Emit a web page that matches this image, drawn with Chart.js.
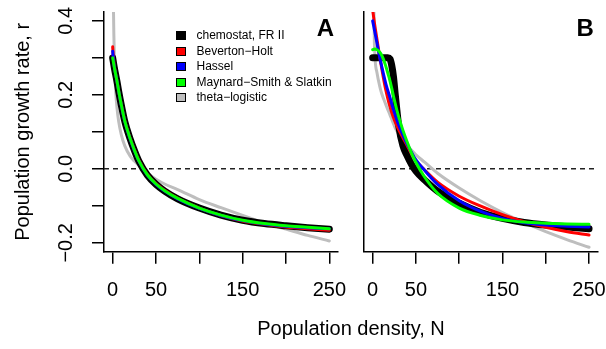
<!DOCTYPE html>
<html lang="en">
<head>
<meta charset="UTF-8">
<title>Population growth rate vs density</title>
<style>
  html, body { margin: 0; padding: 0; background: #fff; }
  #wrap { position: relative; width: 606px; height: 349px; overflow: hidden;
          font-family: "Liberation Sans", Arial, Helvetica, sans-serif; }
  canvas { position: absolute; top: 0; }
  #chartA { left: 0; }
  #chartB { left: 350px; }
  #xtitle { position: absolute; left: 351px; top: 328px; transform: translate(-50%, -50%);
            font-size: 20px; white-space: nowrap; color: #000; }
</style>
</head>
<body>
<div id="wrap">
  <canvas id="chartA" width="350" height="349"></canvas>
  <canvas id="chartB" width="256" height="349"></canvas>
  <div id="xtitle">Population density, N</div>
</div>
<script src="https://cdn.jsdelivr.net/npm/chart.js@4.4.1/dist/chart.umd.min.js"></script>
<script>
// series, in legend order
const seriesNames = ['chemostat, FR II', 'Beverton\u2212Holt', 'Hassel', 'Maynard\u2212Smith & Slatkin', 'theta\u2212logistic'];
const seriesColors = ['#000000', '#ff0000', '#0000ff', '#00ff00', '#bebebe'];

// panel A
const densityA   = [0, 1, 2, 3.5, 5, 7, 10, 14, 20, 25, 30, 40, 50, 60, 75, 100, 125, 150, 175, 200, 225, 250];
const chemostatA = [0.300, 0.286, 0.272, 0.254, 0.236, 0.209, 0.172, 0.128, 0.082, 0.050, 0.022, -0.017, -0.042, -0.060, -0.081, -0.106, -0.125, -0.139, -0.148, -0.154, -0.159, -0.163];
const bevholtA   = [0.330, 0.298, 0.276, 0.256, 0.237, 0.210, 0.173, 0.130, 0.084, 0.052, 0.024, -0.015, -0.040, -0.058, -0.080, -0.106, -0.126, -0.141, -0.150, -0.157, -0.162, -0.166];
const hasselA    = [0.318, 0.292, 0.274, 0.255, 0.236, 0.209, 0.172, 0.128, 0.082, 0.050, 0.022, -0.017, -0.042, -0.060, -0.081, -0.107, -0.126, -0.140, -0.149, -0.155, -0.159, -0.162];
const msslatkinA = [0.300, 0.287, 0.273, 0.255, 0.237, 0.210, 0.173, 0.129, 0.083, 0.051, 0.023, -0.016, -0.041, -0.059, -0.080, -0.106, -0.125, -0.139, -0.148, -0.154, -0.158, -0.162];
const thetaA     = [0.700, 0.420, 0.300, 0.210, 0.165, 0.127, 0.092, 0.062, 0.035, 0.021, 0.010, -0.012, -0.028, -0.041, -0.056, -0.083, -0.105, -0.126, -0.146, -0.163, -0.180, -0.195];

// panel B
const densityB   = [0, 2, 5, 8, 10, 12.5, 15, 17.5, 20, 22, 24, 26, 28, 30, 35, 40, 45, 50, 60, 75, 100, 125, 150, 175, 200, 225, 250];
const chemostatB = [0.300, 0.300, 0.300, 0.300, 0.300, 0.300, 0.300, 0.300, 0.297, 0.280, 0.250, 0.203, 0.158, 0.118, 0.062, 0.035, 0.012, -0.006, -0.030, -0.060, -0.093, -0.118, -0.134, -0.145, -0.152, -0.157, -0.162];
const bevholtB   = [0.430, 0.395, 0.350, 0.305, 0.278, 0.245, 0.215, 0.190, 0.168, 0.152, 0.139, 0.127, 0.116, 0.106, 0.084, 0.062, 0.040, 0.022, -0.003, -0.036, -0.074, -0.101, -0.124, -0.143, -0.158, -0.170, -0.179];
const hasselB    = [0.400, 0.376, 0.340, 0.303, 0.282, 0.256, 0.232, 0.212, 0.193, 0.176, 0.160, 0.146, 0.132, 0.119, 0.091, 0.066, 0.044, 0.024, -0.004, -0.042, -0.086, -0.115, -0.134, -0.146, -0.152, -0.155, -0.157];
const msslatkinB = [0.322, 0.324, 0.322, 0.316, 0.309, 0.296, 0.279, 0.259, 0.238, 0.218, 0.197, 0.177, 0.158, 0.141, 0.104, 0.072, 0.042, 0.017, -0.022, -0.066, -0.106, -0.126, -0.138, -0.144, -0.147, -0.149, -0.150];
const thetaB     = [0.700, 0.340, 0.260, 0.225, 0.207, 0.190, 0.175, 0.160, 0.146, 0.134, 0.122, 0.111, 0.102, 0.095, 0.077, 0.063, 0.050, 0.038, 0.018, -0.012, -0.052, -0.087, -0.118, -0.145, -0.170, -0.192, -0.212];

// axes
const xTicks = [0, 50, 100, 150, 200, 250];
const xTickLabels = ['0', '50', '', '150', '', '250'];
const yTicks = [-0.2, -0.1, 0, 0.1, 0.2, 0.3, 0.4];
const yTickLabels = ['\u22120.2', '', '0.0', '', '0.2', '', '0.4'];

const FONT = '"Liberation Sans", Arial, Helvetica, sans-serif';
Chart.defaults.font.family = FONT;
Chart.defaults.color = '#000';

const lineWidths = [7, 3, 3, 3, 3];
const drawOrder = [4, 3, 2, 1, 5];   // grey at the bottom, green on top

function makeDatasets(n, series) {
  return series.map((vals, k) => ({
    label: seriesNames[k],
    data: n.map((x, i) => ({ x: x, y: vals[i] })),
    borderColor: seriesColors[k],
    backgroundColor: seriesColors[k],
    borderWidth: lineWidths[k],
    borderCapStyle: 'round',
    borderJoinStyle: 'round',
    cubicInterpolationMode: 'monotone',
    pointRadius: 0,
    fill: false,
    clip: 0,
    order: drawOrder[k]
  }));
}

// dashed line at r = 0
const zeroLine = {
  id: 'zeroLine',
  beforeDatasetsDraw(chart) {
    const { ctx, chartArea, scales } = chart;
    const y = scales.y.getPixelForValue(0);
    ctx.save();
    ctx.strokeStyle = '#222';
    ctx.lineWidth = 1.5;
    ctx.setLineDash([5, 4]);
    ctx.beginPath();
    ctx.moveTo(chartArea.left, y);
    ctx.lineTo(chartArea.right, y);
    ctx.stroke();
    ctx.restore();
  }
};

const panelLetter = {
  id: 'panelLetter',
  afterDraw(chart, args, opts) {
    const { ctx, chartArea } = chart;
    ctx.save();
    ctx.font = 'bold 24px ' + FONT;
    ctx.fillStyle = '#000';
    ctx.textAlign = 'center';
    ctx.textBaseline = 'middle';
    ctx.fillText(opts.text, chartArea.right - 12.5, chartArea.top + 17);
    ctx.restore();
  }
};

// R style legend with filled squares
const boxLegend = {
  id: 'boxLegend',
  afterDraw(chart, args, opts) {
    if (!opts.show) return;
    const { ctx, chartArea } = chart;
    const x0 = chartArea.left + 72, y0 = chartArea.top + 23;
    ctx.save();
    ctx.font = '12px ' + FONT;
    ctx.textBaseline = 'middle';
    ctx.textAlign = 'left';
    chart.data.datasets.forEach((ds, i) => {
      const yc = Math.round(y0 + i * 15.5);
      ctx.fillStyle = ds.borderColor;
      ctx.fillRect(x0, yc - 4, 10, 9);
      ctx.strokeStyle = '#000';
      ctx.lineWidth = 1;
      ctx.strokeRect(x0 + 0.5, yc - 3.5, 9, 8);
      ctx.fillStyle = '#000';
      ctx.fillText(ds.label, x0 + 20.5, yc + 0.5);
    });
    ctx.restore();
  }
};

function makeScales(leftPanel) {
  const axisGrid = { drawOnChartArea: false, drawTicks: true, tickLength: 12, color: '#000', lineWidth: 1.5 };
  const axisBorder = { display: true, color: '#000', width: 1.5 };
  const y = {
    min: -0.224, max: 0.424,
    afterBuildTicks: s => { s.ticks = yTicks.map(v => ({ value: v })); },
    afterFit: s => { s.width = leftPanel ? 104 : 14; s.paddingTop = 0; s.paddingBottom = 0; },
    border: axisBorder
  };
  if (leftPanel) {
    y.ticks = { autoSkip: false, minRotation: 90, maxRotation: 90, crossAlign: 'center', padding: 6,
                font: { size: 20 }, color: '#000', callback: (v, i) => yTickLabels[i] };
    y.grid = axisGrid;
    y.title = { display: true, text: 'Population growth rate, r', font: { size: 20 },
                color: '#000', padding: { top: 11, bottom: 0 } };
  } else {
    y.ticks = { display: false };
    y.grid = { drawOnChartArea: false, drawTicks: false };
  }
  return {
    x: {
      type: 'linear', min: -10, max: 260,
      afterBuildTicks: s => { s.ticks = xTicks.map(v => ({ value: v })); },
      afterFit: s => { s.height = 97.3; s.paddingLeft = 0; s.paddingRight = 0; },
      ticks: { autoSkip: false, maxRotation: 0, padding: 15, font: { size: 20 }, color: '#000',
               callback: (v, i) => xTickLabels[i] },
      grid: axisGrid,
      border: axisBorder
    },
    y: y
  };
}

function makeChart(id, n, series, letter, leftPanel) {
  return new Chart(document.getElementById(id), {
    type: 'line',
    data: { datasets: makeDatasets(n, series) },
    options: {
      responsive: false,
      animation: false,
      layout: { padding: { left: 0, top: 12, right: leftPanel ? 12 : 8.3, bottom: 0 } },
      scales: makeScales(leftPanel),
      plugins: {
        legend: { display: false },
        tooltip: { enabled: false },
        panelLetter: { text: letter },
        boxLegend: { show: leftPanel }
      }
    },
    plugins: [zeroLine, panelLetter, boxLegend]
  });
}

makeChart('chartA', densityA, [chemostatA, bevholtA, hasselA, msslatkinA, thetaA], 'A', true);
makeChart('chartB', densityB, [chemostatB, bevholtB, hasselB, msslatkinB, thetaB], 'B', false);
</script>
</body>
</html>
